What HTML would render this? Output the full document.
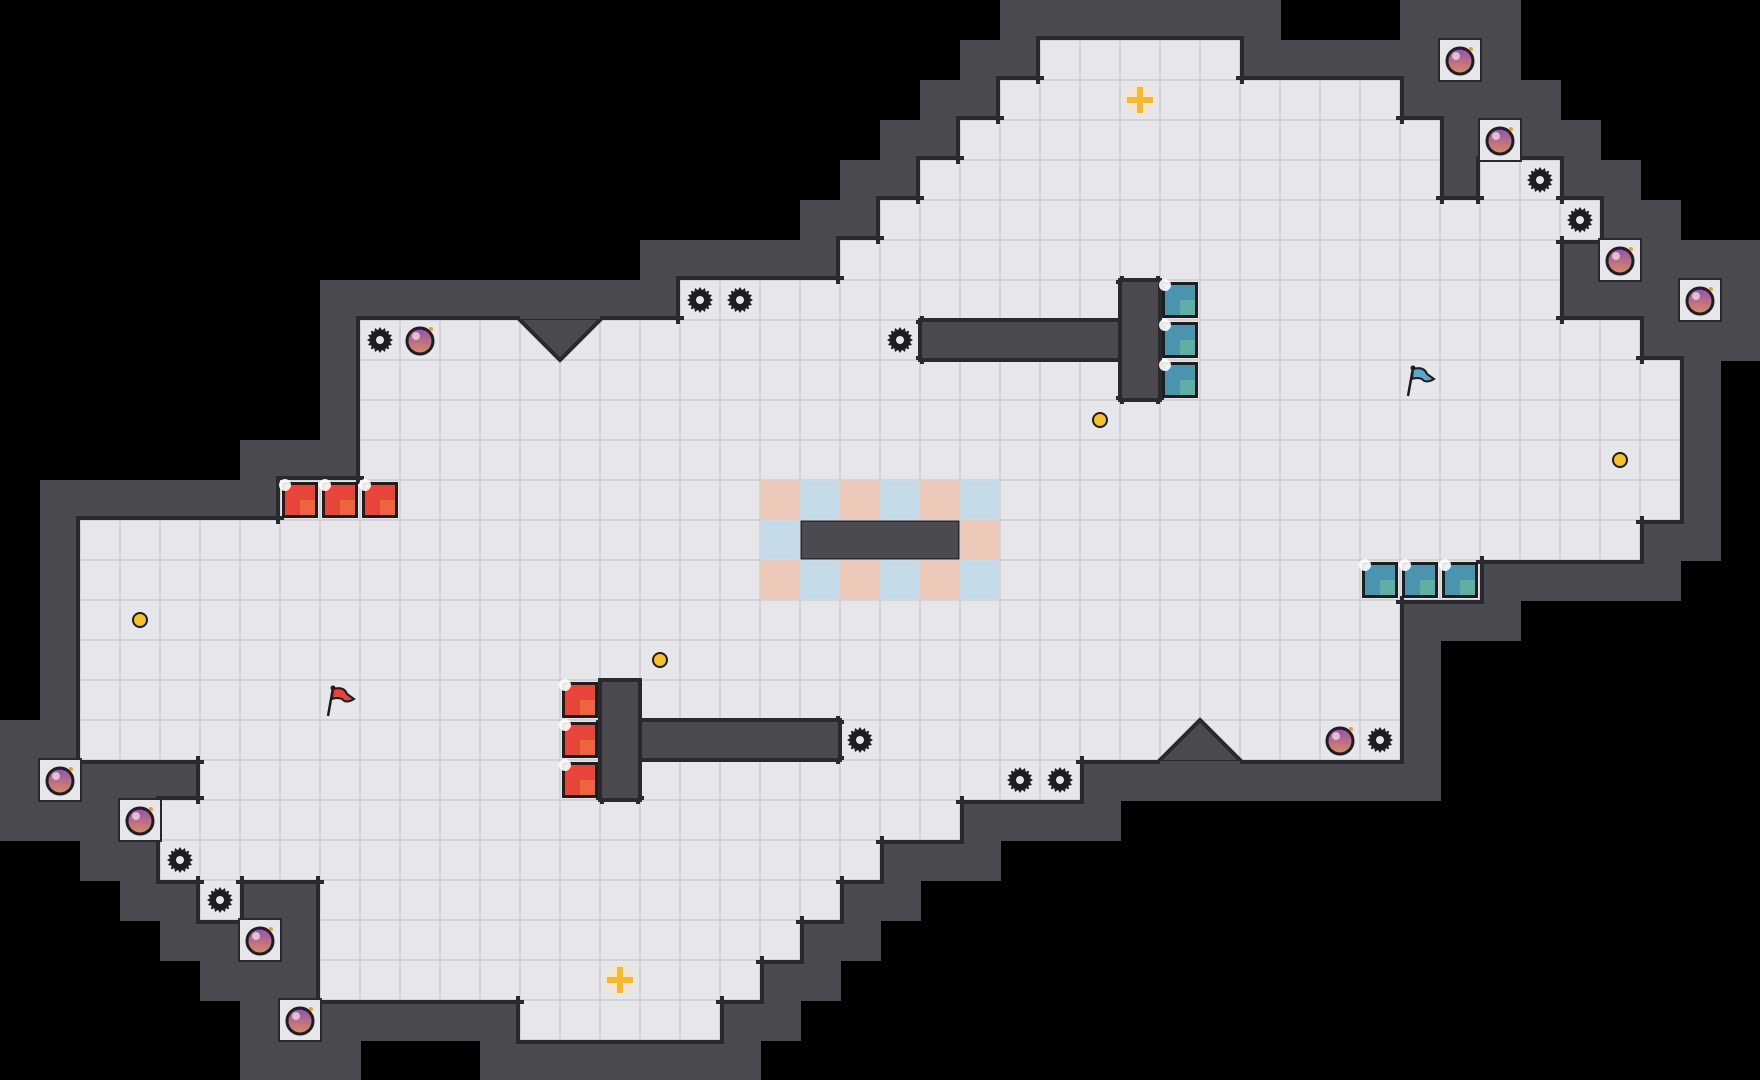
<!DOCTYPE html>
<html><head><meta charset="utf-8"><style>
html,body{margin:0;padding:0;background:#000;width:1760px;height:1080px;overflow:hidden}
svg{display:block}
</style></head><body>
<svg id="s" width="1760" height="1080" viewBox="0 0 1760 1080" xmlns="http://www.w3.org/2000/svg">
<defs><linearGradient id="bg" x1="0" y1="0" x2="0" y2="1"><stop offset="0" stop-color="#9050b0"/><stop offset="1" stop-color="#e08a60"/></linearGradient></defs>
<rect width="1760" height="1080" fill="#000"/>
</svg>
<script>
var C=40,W=44,H=27;
var rows={1:[[26,30]],2:[[25,34]],3:[[24,35]],4:[[23,35],[37,38]],5:[[22,39]],6:[[21,38]],
7:[[17,27],[29,38]],8:[[9,22],[29,40]],9:[[9,27],[29,41]],10:[[9,41]],11:[[9,41]],12:[[7,41]],
13:[[2,19],[24,40]],14:[[2,36]],15:[[2,34]],16:[[2,34]],17:[[2,34]],18:[[2,14],[21,34]],
19:[[5,14],[16,26]],20:[[4,23]],21:[[4,21]],22:[[5,5],[8,20]],23:[[8,19]],24:[[8,18]],25:[[13,17]]};
var g=[];for(var y=0;y<H;y++){g.push([]);for(var x=0;x<W;x++)g[y].push(0);}
for(var r in rows)rows[r].forEach(function(a){for(var x=a[0];x<=a[1];x++)g[+r][x]=1;});
var boxes=[[36,1],[37,3],[40,6],[42,7],[1,19],[3,20],[6,23],[7,25]];
var wall=[];for(var y=0;y<H;y++){wall.push([]);for(var x=0;x<W;x++)wall[y].push(0);}
function mark(x,y){for(var dy=-1;dy<=1;dy++)for(var dx=-1;dx<=1;dx++){var X=x+dx,Y=y+dy;if(X>=0&&Y>=0&&X<W&&Y<H)wall[Y][X]=1;}}
for(var y=0;y<H;y++)for(var x=0;x<W;x++)if(g[y][x])mark(x,y);
boxes.forEach(function(b){mark(b[0],b[1]);});
var s='';
for(var y=0;y<H;y++)for(var x=0;x<W;x++)if(wall[y][x]&&!g[y][x])s+='<rect x="'+x*C+'" y="'+y*C+'" width="41" height="41" fill="#4a4a50"/>';
for(var y=0;y<H;y++)for(var x=0;x<W;x++)if(g[y][x]){
 s+='<rect x="'+x*C+'" y="'+y*C+'" width="40" height="40" fill="#e7e7eb"/><rect x="'+(x*C+0.5)+'" y="'+(y*C+0.5)+'" width="39" height="39" fill="none" stroke="#d2d2d7" stroke-width="1"/>';
}
for(var y=0;y<H;y++)for(var x=0;x<W;x++)if(g[y][x]){
 var px=x*C,py=y*C;
 if(!g[y-1]||!g[y-1][x])s+='<rect x="'+(px-4)+'" y="'+(py-4)+'" width="48" height="4" fill="#2a2a2e"/>';
 if(!g[y+1]||!g[y+1][x])s+='<rect x="'+(px-4)+'" y="'+(py+40)+'" width="48" height="4" fill="#2a2a2e"/>';
 if(!g[y][x-1])s+='<rect x="'+(px-4)+'" y="'+(py-4)+'" width="4" height="48" fill="#2a2a2e"/>';
 if(!g[y][x+1])s+='<rect x="'+(px+40)+'" y="'+(py-4)+'" width="4" height="48" fill="#2a2a2e"/>';
}
s+='<rect x="800" y="520" width="160" height="40" fill="#4a4a50" stroke="#2a2a2e" stroke-width="4"/>';
s+='<rect x="920" y="320" width="240" height="40" fill="#4a4a50" stroke="#2a2a2e" stroke-width="4"/>';
s+='<rect x="1120" y="280" width="40" height="120" fill="#4a4a50" stroke="#2a2a2e" stroke-width="4"/>';
s+='<rect x="600" y="720" width="240" height="40" fill="#4a4a50" stroke="#2a2a2e" stroke-width="4"/>';
s+='<rect x="600" y="680" width="40" height="120" fill="#4a4a50" stroke="#2a2a2e" stroke-width="4"/>';
// diagonal features
s+='<polygon points="518,318 602,318 560,360" fill="#4a4a50" stroke="#2a2a2e" stroke-width="4"/><rect x="520" y="312" width="80" height="7" fill="#4a4a50"/>';
s+='<polygon points="1158,762 1200,720 1242,762" fill="#4a4a50" stroke="#2a2a2e" stroke-width="4"/><rect x="1160" y="761" width="80" height="7" fill="#4a4a50"/>';
var tint=[[19,12,'p'],[20,12,'b'],[21,12,'p'],[22,12,'b'],[23,12,'p'],[24,12,'b'],[19,13,'b'],[24,13,'p'],
[19,14,'p'],[20,14,'b'],[21,14,'p'],[22,14,'b'],[23,14,'p'],[24,14,'b']];
tint.forEach(function(t){s+='<rect x="'+t[0]*C+'" y="'+t[1]*C+'" width="40" height="40" fill="'+(t[2]=='p'?'#ecc9b8':'#c6dbe8')+'" stroke="#d8d8dc" stroke-width="1"/>';});
function block(x,y,c1,c2){var px=x*C,py=y*C;
 s+='<rect x="'+(px+2)+'" y="'+(py+2)+'" width="36" height="36" fill="#1e1e20"/><rect x="'+(px+5)+'" y="'+(py+5)+'" width="30" height="30" fill="'+c1+'"/><rect x="'+(px+20)+'" y="'+(py+20)+'" width="15" height="15" fill="'+c2+'" opacity="0.6"/><circle cx="'+(px+5)+'" cy="'+(py+5)+'" r="6" fill="#fff" opacity="0.9"/>';}
[[7,12],[8,12],[9,12],[14,17],[14,18],[14,19]].forEach(function(b){block(b[0],b[1],'#e8443a','#f07a40');});
[[29,7],[29,8],[29,9],[34,14],[35,14],[36,14]].forEach(function(b){block(b[0],b[1],'#4a94b0','#6cc0a0');});
function bomb(cx,cy){s+='<circle cx="'+cx+'" cy="'+cy+'" r="13" fill="url(#bg)" stroke="#1e1e20" stroke-width="3"/><circle cx="'+(cx-4)+'" cy="'+(cy-5)+'" r="4" fill="#fff" opacity="0.6"/><circle cx="'+(cx+11)+'" cy="'+(cy-12)+'" r="2" fill="#f59a30"/>';}
boxes.forEach(function(b){var px=b[0]*C,py=b[1]*C;s+='<rect x="'+(px-2)+'" y="'+(py-2)+'" width="44" height="44" fill="#2a2a2e"/><rect x="'+px+'" y="'+py+'" width="40" height="40" fill="#e7e7eb"/>';bomb(px+20,py+21);});
[[10,8],[33,18]].forEach(function(b){bomb(b[0]*C+20,b[1]*C+21);});
function spike(cx,cy){var p='';for(var i=0;i<32;i++){var a=i*Math.PI/16,r=i%2?10:13;p+=(cx+r*Math.cos(a)).toFixed(1)+','+(cy+r*Math.sin(a)).toFixed(1)+' ';}
 s+='<polygon points="'+p+'" fill="#1e1e20"/><circle cx="'+cx+'" cy="'+cy+'" r="4" fill="#e7e7eb"/>';}
[[9,8],[17,7],[18,7],[22,8],[38,4],[39,5],[21,18],[25,19],[26,19],[34,18],[4,21],[5,22]].forEach(function(p){spike(p[0]*C+20,p[1]*C+20);});
[[27,10],[40,11],[3,15],[16,16]].forEach(function(p){s+='<circle cx="'+(p[0]*C+20)+'" cy="'+(p[1]*C+20)+'" r="7" fill="#f5c030" stroke="#1e1e20" stroke-width="2"/>';});
[[28,2],[15,24]].forEach(function(p){var cx=p[0]*C+20,cy=p[1]*C+20;s+='<circle cx="'+cx+'" cy="'+cy+'" r="15" fill="#f6e6c0" opacity="0.6"/><rect x="'+(cx-13)+'" y="'+(cy-3)+'" width="26" height="6" fill="#f5b830"/><rect x="'+(cx-3)+'" y="'+(cy-13)+'" width="6" height="26" fill="#f5b830"/>';});
function flag(x,y,c){var px=x*C,py=y*C;s+='<line x1="'+(px+8)+'" y1="'+(py+36)+'" x2="'+(px+13)+'" y2="'+(py+8)+'" stroke="#1e1e20" stroke-width="2.5"/><path d="M'+(px+13)+' '+(py+9)+' Q'+(px+24)+' '+(py+6)+' '+(px+27)+' '+(py+14)+' L'+(px+34)+' '+(py+19)+' Q'+(px+26)+' '+(py+24)+' '+(px+22)+' '+(py+19)+' Q'+(px+17)+' '+(py+17)+' '+(px+12)+' '+(py+19)+' Z" fill="'+c+'" stroke="#1e1e20" stroke-width="2"/><circle cx="'+(px+13)+'" cy="'+(py+8)+'" r="2.5" fill="#1e1e20"/>';}
flag(8,17,'#e8443a');flag(35,9,'#5aa8c8');
document.getElementById('s').insertAdjacentHTML('beforeend',s);
</script>
</body></html>
